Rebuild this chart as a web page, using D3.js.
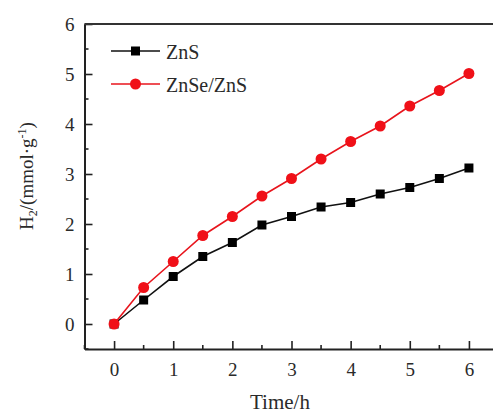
<!DOCTYPE html>
<html>
<head>
<meta charset="utf-8">
<script src="https://cdn.jsdelivr.net/npm/d3@7"></script>
<style>
  body { margin: 0; background: #fff; }
  text { font-family: "Liberation Serif", "Times New Roman", serif; fill: #2a2a2a; font-weight: normal; }
</style>
</head>
<body>
<div class="container"></div>
<script>
let times = [0, 0.5, 1, 1.5, 2, 2.5, 3, 3.5, 4, 4.5, 5, 5.5, 6];
let znS = [0, 0.48, 0.95, 1.35, 1.63, 1.98, 2.15, 2.34, 2.43, 2.60, 2.73, 2.91, 3.12];
let znSeZnS = [0, 0.73, 1.25, 1.77, 2.15, 2.56, 2.91, 3.30, 3.65, 3.96, 4.36, 4.67, 5.01];
let xTicks = [0, 1, 2, 3, 4, 5, 6];
let yTicks = [0, 1, 2, 3, 4, 5, 6];

let width = 493, height = 416;

let svg = d3.select(".container").append("svg")
    .attr("width", width)
    .attr("height", height);

let xScale = d3.scaleLinear().domain([-0.5, 6.5]).range([84.5, 498.5]);
let yScale = d3.scaleLinear().domain([-0.5, 6]).range([349, 24]);

// minor ticks
let xMinor = d3.range(-0.5, 6.51, 0.5).filter(d => !xTicks.includes(d));
let yMinor = d3.range(-0.5, 6.01, 0.5).filter(d => !yTicks.includes(d));

let xAxis = d3.axisBottom(xScale).tickValues(xTicks).tickFormat(d3.format("d"))
    .tickSizeInner(-8).tickSizeOuter(0).tickPadding(14);
let yAxis = d3.axisLeft(yScale).tickValues(yTicks).tickFormat(d3.format("d"))
    .tickSizeInner(-8).tickSizeOuter(0).tickPadding(10);

let gx = svg.append("g")
    .attr("transform", "translate(0," + yScale(-0.5) + ")")
    .call(xAxis);
gx.selectAll(".tick text").attr("font-size", 19);

gx.selectAll(".minor").data(xMinor).enter().append("line")
    .attr("x1", d => xScale(d)).attr("x2", d => xScale(d))
    .attr("y1", 0).attr("y2", -4)
    .attr("stroke", "#222").attr("stroke-width", 1.6);

let gy = svg.append("g")
    .attr("transform", "translate(" + xScale(-0.5) + ",0)")
    .call(yAxis);
gy.selectAll(".tick text").attr("font-size", 19);

gy.selectAll(".minor").data(yMinor).enter().append("line")
    .attr("x1", 0).attr("x2", 4)
    .attr("y1", d => yScale(d)).attr("y2", d => yScale(d))
    .attr("stroke", "#222").attr("stroke-width", 1.6);

svg.selectAll(".domain").attr("stroke", "#222").attr("stroke-width", 2);
svg.selectAll(".tick line").attr("stroke", "#222").attr("stroke-width", 1.6);

// top frame line
svg.append("line")
    .attr("x1", xScale(-0.5)).attr("x2", width)
    .attr("y1", yScale(6)).attr("y2", yScale(6))
    .attr("stroke", "#333").attr("stroke-width", 2);

let line = d3.line()
    .x((d, i) => xScale(times[i]))
    .y(d => yScale(d));

// ZnS series
svg.append("path")
    .datum(znS)
    .attr("fill", "none")
    .attr("stroke", "#111")
    .attr("stroke-width", 1.6)
    .attr("d", line);

svg.selectAll(".sq").data(znS).enter().append("rect")
    .attr("x", (d, i) => xScale(times[i]) - 4.5)
    .attr("y", d => yScale(d) - 4.5)
    .attr("width", 9).attr("height", 9)
    .attr("fill", "#000");

// ZnSe/ZnS series
svg.append("path")
    .datum(znSeZnS)
    .attr("fill", "none")
    .attr("stroke", "#e8141c")
    .attr("stroke-width", 1.6)
    .attr("d", line);

svg.selectAll(".dot").data(znSeZnS).enter().append("circle")
    .attr("cx", (d, i) => xScale(times[i]))
    .attr("cy", d => yScale(d))
    .attr("r", 5.5)
    .attr("fill", "#f01018");

// legend
let legend = svg.append("g");
legend.append("line").attr("x1", 111).attr("x2", 160).attr("y1", 51).attr("y2", 51)
    .attr("stroke", "#111").attr("stroke-width", 1.6);
legend.append("rect").attr("x", 131).attr("y", 46.5).attr("width", 9).attr("height", 9).attr("fill", "#000");
legend.append("text").attr("x", 166).attr("y", 59).attr("font-size", 20).text("ZnS");

legend.append("line").attr("x1", 111).attr("x2", 160).attr("y1", 84).attr("y2", 84)
    .attr("stroke", "#e8141c").attr("stroke-width", 1.6);
legend.append("circle").attr("cx", 135.5).attr("cy", 84).attr("r", 5.5).attr("fill", "#f01018");
legend.append("text").attr("x", 166).attr("y", 92).attr("font-size", 20).text("ZnSe/ZnS");

// axis titles
svg.append("text")
    .attr("x", 280).attr("y", 409)
    .attr("text-anchor", "middle")
    .attr("font-size", 21)
    .text("Time/h");

let yt = svg.append("text")
    .attr("transform", "translate(33,176) rotate(-90)")
    .attr("text-anchor", "middle")
    .attr("font-size", 19);
yt.append("tspan").text("H");
yt.append("tspan").attr("font-size", 12).attr("dy", 4).text("2");
yt.append("tspan").attr("dy", -4).text("/(mmol·g");
yt.append("tspan").attr("font-size", 12).attr("dy", -7).text("-1");
yt.append("tspan").attr("dy", 7).text(")");
</script>
</body>
</html>
